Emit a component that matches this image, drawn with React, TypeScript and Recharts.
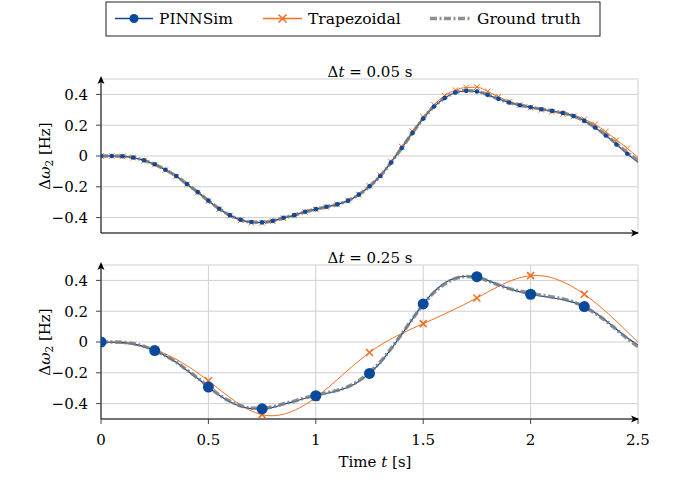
import React from "react";
import { LineChart, Line, XAxis, YAxis, CartesianGrid, ReferenceDot } from "recharts";

// sample times (s) for the fine grid and the coarse grid
const TIMES = Array.from({ length: 51 }, (_, i) => Math.round(i * 5) / 100);
const TIMES_COARSE = [0, 0.25, 0.5, 0.75, 1, 1.25, 1.5, 1.75, 2, 2.25, 2.5];
const X_TICKS = [0, 0.5, 1, 1.5, 2, 2.5];
const Y_TICKS = [-0.4, -0.2, 0, 0.2, 0.4];

const GROUND_TRUTH = [
  0, 0, -0.002, -0.01, -0.028, -0.054, -0.089, -0.13, -0.182, -0.234,
  -0.29, -0.343, -0.384, -0.414, -0.429, -0.431, -0.421, -0.401, -0.384, -0.362,
  -0.345, -0.33, -0.314, -0.29, -0.251, -0.197, -0.13, -0.043, 0.052, 0.15,
  0.243, 0.321, 0.377, 0.412, 0.425, 0.42, 0.398, 0.371, 0.347, 0.33,
  0.317, 0.304, 0.293, 0.28, 0.26, 0.228, 0.187, 0.137, 0.08, 0.022,
  -0.03,
];

const PINNSIM_DT005 = [
  0, 0, -0.002, -0.01, -0.028, -0.054, -0.089, -0.13, -0.182, -0.234,
  -0.29, -0.343, -0.384, -0.414, -0.429, -0.431, -0.421, -0.401, -0.384, -0.362,
  -0.345, -0.33, -0.314, -0.29, -0.251, -0.197, -0.13, -0.043, 0.052, 0.15,
  0.243, 0.321, 0.377, 0.412, 0.423, 0.419, 0.397, 0.371, 0.347, 0.33,
  0.317, 0.304, 0.293, 0.28, 0.26, 0.228, 0.185, 0.133, 0.075, 0.015,
  -0.04,
];

const TRAPEZOIDAL_DT005 = [
  0, 0, -0.002, -0.01, -0.03, -0.056, -0.091, -0.133, -0.185, -0.238,
  -0.293, -0.346, -0.388, -0.418, -0.433, -0.434, -0.424, -0.404, -0.386, -0.364,
  -0.347, -0.331, -0.315, -0.29, -0.25, -0.194, -0.125, -0.036, 0.061, 0.16,
  0.254, 0.333, 0.392, 0.428, 0.445, 0.447, 0.42, 0.385, 0.355, 0.332,
  0.315, 0.3, 0.288, 0.273, 0.258, 0.238, 0.205, 0.158, 0.104, 0.05,
  -0.01,
];

const PINNSIM_DT025 = [
  0, 0, -0.003, -0.012, -0.03, -0.056, -0.09, -0.132, -0.184, -0.237,
  -0.293, -0.346, -0.388, -0.418, -0.432, -0.434, -0.424, -0.404, -0.386, -0.365,
  -0.349, -0.333, -0.317, -0.294, -0.256, -0.204, -0.135, -0.047, 0.05, 0.149,
  0.247, 0.326, 0.383, 0.416, 0.427, 0.424, 0.4, 0.372, 0.347, 0.326,
  0.31, 0.298, 0.287, 0.275, 0.257, 0.23, 0.19, 0.14, 0.083, 0.028,
  -0.02,
];

const TRAPEZOIDAL_DT025 = [0, -0.05, -0.252, -0.472, -0.36, -0.068, 0.119, 0.286, 0.431, 0.31, -0.002];

const BLUE = "#0b4a9b";
const ORANGE = "#f36f21";
const GRAY = "#7c7c7c";
const GRID = "#cfcfcf";
const FONT = "'DejaVu Serif', serif";
const GT_DASH = "7 2.5 2 2.5";
const T_END = 2.5;

const topRows = TIMES.map((t, i) => ({
  t,
  gt: GROUND_TRUTH[i],
  pinn: PINNSIM_DT005[i],
  pinnMark: PINNSIM_DT005[i],
  trap: TRAPEZOIDAL_DT005[i],
}));

const bottomRows = TIMES.map((t, i) => {
  const ci = TIMES_COARSE.indexOf(t);
  return {
    t,
    gt: GROUND_TRUTH[i],
    pinn: PINNSIM_DT025[i],
    pinnMark: PINNSIM_DT025[i],
    trap: ci >= 0 ? TRAPEZOIDAL_DT025[ci] : null,
  };
});

const makeDot = (r: number, onlyCoarse: boolean) => (props: any) => {
  const { cx, cy, index, payload } = props;
  const skip =
    cx == null ||
    cy == null ||
    payload.t >= T_END ||
    (onlyCoarse && TIMES_COARSE.indexOf(payload.t) < 0);
  if (skip) return <g key={`d-${index}`} />;
  return <circle key={`d-${index}`} cx={cx} cy={cy} r={r} fill={BLUE} stroke="none" />;
};

const makeCross = (s: number, w: number) => (props: any) => {
  const { cx, cy, index, value, payload } = props;
  if (cx == null || cy == null || value == null || Number.isNaN(cy) || payload.t >= T_END) {
    return <g key={`x-${index}`} />;
  }
  return (
    <path
      key={`x-${index}`}
      d={`M${cx - s},${cy - s}L${cx + s},${cy + s}M${cx - s},${cy + s}L${cx + s},${cy - s}`}
      stroke={ORANGE}
      strokeWidth={w}
      fill="none"
    />
  );
};

const ArrowRight = (props: any) => {
  const { cx, cy } = props;
  const x = cx + 1;
  return <path d={`M${x},${cy}L${x - 8},${cy - 3.5}L${x - 6},${cy}L${x - 8},${cy + 3.5}Z`} fill="#000" />;
};
const ArrowUp = (props: any) => {
  const { cx, cy } = props;
  const y = cy - 3;
  return <path d={`M${cx},${y}L${cx - 3.5},${y + 8}L${cx},${y + 6}L${cx + 3.5},${y + 8}Z`} fill="#000" />;
};

const fmtY = (v: number) => (v === 0 ? "0" : (v < 0 ? "\u2212" : "") + Math.abs(v).toFixed(1));
const tickStyle = { fill: "#000", fontSize: 15, fontFamily: FONT };

function Panel({ rows, coarse, showX }: { rows: any[]; coarse: boolean; showX: boolean }) {
  return (
    <LineChart
      width={676}
      height={300}
      data={rows}
      margin={{ top: 79, right: 38, left: 41, bottom: 50 }}
    >
      <CartesianGrid stroke={GRID} strokeWidth={1} />
      <XAxis
        dataKey="t"
        type="number"
        domain={[0, 2.5]}
        ticks={X_TICKS}
        allowDataOverflow
        height={17}
        axisLine={{ stroke: "#000", strokeWidth: 1 }}
        tickLine={{ stroke: "#444" }}
        tickSize={5}
        tickMargin={10}
        tick={showX ? tickStyle : false}
        tickFormatter={(v: number) => String(v)}
      />
      <YAxis
        type="number"
        domain={[-0.5, 0.5]}
        ticks={Y_TICKS}
        allowDataOverflow
        width={60}
        axisLine={{ stroke: "#000", strokeWidth: 1 }}
        tickLine={{ stroke: "#444" }}
        tickSize={5}
        tickMargin={8}
        tick={tickStyle}
        tickFormatter={fmtY}
      />
      <Line
        dataKey="trap"
        type={coarse ? "natural" : "monotone"}
        stroke={ORANGE}
        strokeWidth={1}
        connectNulls
        dot={coarse ? makeCross(3.5, 1.6) : makeCross(2.8, 1)}
        isAnimationActive={false}
      />
      <Line
        dataKey="pinn"
        type="monotone"
        stroke={BLUE}
        strokeWidth={1.2}
        dot={false}
        isAnimationActive={false}
      />
      <Line
        dataKey="gt"
        type="monotone"
        stroke={GRAY}
        strokeWidth={3.5}
        strokeDasharray={GT_DASH}
        strokeOpacity={0.85}
        dot={false}
        isAnimationActive={false}
      />
      <Line
        dataKey="pinnMark"
        type="monotone"
        stroke="none"
        dot={coarse ? makeDot(5.5, true) : makeDot(2.3, false)}
        isAnimationActive={false}
      />
      <ReferenceDot x={2.5} y={-0.5} r={0} ifOverflow="visible" shape={ArrowRight} />
      <ReferenceDot x={0} y={0.5} r={0} ifOverflow="visible" shape={ArrowUp} />
    </LineChart>
  );
}

export default function App() {
  return (
    <div style={{ position: "absolute", left: 0, top: 0, width: 676, height: 484, background: "#fff" }}>
      <div style={{ position: "absolute", left: 0, top: 0 }}>
        <Panel rows={topRows} coarse={false} showX={false} />
      </div>
      <div style={{ position: "absolute", left: 0, top: 186 }}>
        <Panel rows={bottomRows} coarse={true} showX={true} />
      </div>
      <svg
        width={676}
        height={484}
        style={{ position: "absolute", left: 0, top: 0, pointerEvents: "none" }}
        fontFamily={FONT}
      >
        {/* legend */}
        <rect x={106} y={2} width={494} height={34} fill="#fff" stroke="#222" strokeWidth={1} />
        <line x1={115} y1={18.5} x2={153} y2={18.5} stroke={BLUE} strokeWidth={1.5} />
        <circle cx={134} cy={18.5} r={4.5} fill={BLUE} />
        <text x={159} y={23.5} fontSize={15.5} fill="#000">PINNSim</text>
        <line x1={263} y1={18.5} x2={302} y2={18.5} stroke={ORANGE} strokeWidth={1.5} />
        <path d="M278.5,14.5L286.5,22.5M278.5,22.5L286.5,14.5" stroke={ORANGE} strokeWidth={1.6} />
        <text x={308} y={23.5} fontSize={15.5} fill="#000">Trapezoidal</text>
        <line x1={430} y1={18.5} x2={470} y2={18.5} stroke={GRAY} strokeOpacity={0.85} strokeWidth={3.5} strokeDasharray={GT_DASH} />
        <text x={477} y={23.5} fontSize={15.5} fill="#000">Ground truth</text>

        {/* panel titles */}
        <text x={370} y={76.5} fontSize={15} textAnchor="middle" fill="#000">
          Δ<tspan fontStyle="italic">t</tspan> = 0.05 s
        </text>
        <text x={370} y={262.5} fontSize={15} textAnchor="middle" fill="#000">
          Δ<tspan fontStyle="italic">t</tspan> = 0.25 s
        </text>

        {/* y labels */}
        <text x={50} y={156} fontSize={15} textAnchor="middle" fill="#000" transform="rotate(-90 50 156)">
          Δ<tspan fontStyle="italic">ω</tspan>
          <tspan fontSize={10.5} dy={3}>2</tspan>
          <tspan dy={-3}> [Hz]</tspan>
        </text>
        <text x={50} y={342} fontSize={15} textAnchor="middle" fill="#000" transform="rotate(-90 50 342)">
          Δ<tspan fontStyle="italic">ω</tspan>
          <tspan fontSize={10.5} dy={3}>2</tspan>
          <tspan dy={-3}> [Hz]</tspan>
        </text>

        {/* x label */}
        <text x={375} y={467} fontSize={15} textAnchor="middle" fill="#000">
          Time <tspan fontStyle="italic">t</tspan> [s]
        </text>
      </svg>
    </div>
  );
}
